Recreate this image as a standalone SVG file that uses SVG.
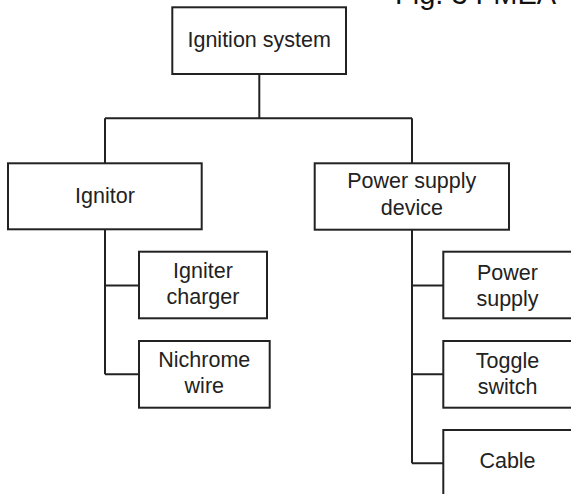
<svg xmlns="http://www.w3.org/2000/svg" width="571" height="494" viewBox="0 0 571 494">
<style>
.box{fill:#fff;stroke:#222;stroke-width:2}
.lbl{font-family:"Liberation Sans",Arial,sans-serif;font-size:21.5px;fill:#222;text-anchor:middle}
.conn{stroke:#222;stroke-width:2;fill:none}
.cap{font-family:"Liberation Sans",Arial,sans-serif;font-size:29px;fill:#111}
</style>
<rect width="571" height="494" fill="#fff"/>
<text class="cap" x="395" y="4">Fig. 3 FMEA</text>
<g id="connectors">
<path class="conn" d="M259.3 74 V118.3 M105 118.3 H412 M105 118.3 V163.3 M412 118.3 V163.3"/>
<path class="conn" d="M105 229.5 V374.3 M105 285.5 H139 M105 374.3 H139"/>
<path class="conn" d="M412 229.7 V463.3 M412 285.5 H443.3 M412 374.3 H443.3 M412 463.3 H443.3"/>
</g>
<g id="ignition-system">
<rect class="box" x="172.3" y="7.3" width="173.7" height="66.7"/>
<text class="lbl" x="259.2" y="46.7">Ignition system</text>
</g>
<g id="ignitor">
<rect class="box" x="8" y="163.3" width="193.7" height="66"/>
<text class="lbl" x="105" y="202.7">Ignitor</text>
</g>
<g id="power-supply-device">
<rect class="box" x="314.7" y="163.3" width="194.3" height="66.4"/>
<text class="lbl" x="411.8" y="188.3">Power supply</text>
<text class="lbl" x="411.8" y="215">device</text>
</g>
<g id="igniter-charger">
<rect class="box" x="139" y="251.7" width="128" height="66.6"/>
<text class="lbl" x="203" y="278.3">Igniter</text>
<text class="lbl" x="203" y="304.3">charger</text>
</g>
<g id="nichrome-wire">
<rect class="box" x="139" y="341" width="130.7" height="66.7"/>
<text class="lbl" x="204.3" y="366.7">Nichrome</text>
<text class="lbl" x="204.3" y="393.3">wire</text>
</g>
<g id="power-supply">
<rect class="box" x="443.3" y="251.7" width="130" height="66.6"/>
<text class="lbl" x="507.5" y="280">Power</text>
<text class="lbl" x="507.5" y="305.7">supply</text>
</g>
<g id="toggle-switch">
<rect class="box" x="443.3" y="341" width="130" height="66.7"/>
<text class="lbl" x="507.5" y="368.3">Toggle</text>
<text class="lbl" x="507.5" y="394.3">switch</text>
</g>
<g id="cable">
<rect class="box" x="443.3" y="430" width="130" height="70"/>
<text class="lbl" x="507.5" y="468.3">Cable</text>
</g>
</svg>
